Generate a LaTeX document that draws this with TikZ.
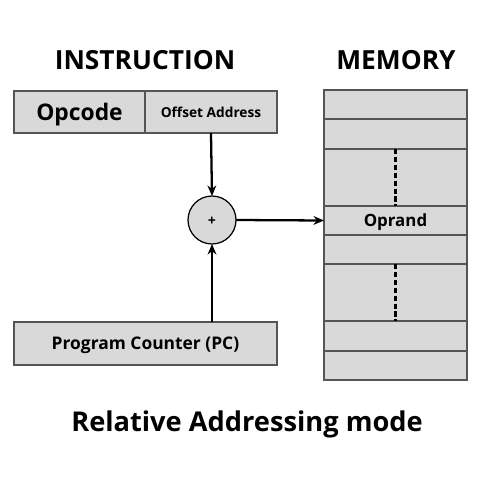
\documentclass[tikz,border=0pt]{standalone}
\usepackage{fontspec}
\setmainfont{Open Sans}
\usetikzlibrary{arrows.meta}
\definecolor{cellgray}{HTML}{D9D9D9}
\definecolor{edgegray}{HTML}{555555}
\begin{document}
\begin{tikzpicture}[x=0.02cm,y=-0.02cm,inner sep=0pt,outer sep=0pt,
cell/.style={draw=edgegray,fill=cellgray,line width=0.9pt,rectangle,anchor=north west},
txt/.style={font=\bfseries\fontsize{#1}{#1}\selectfont,text height=0.714*#1pt,text depth=0pt},
link/.style={line width=1.3pt,-{Stealth[length=6pt,width=5pt]}}]
\useasboundingbox (0,0) rectangle (500,500);
\draw (145,60) node[txt=15] (ititle) {INSTRUCTION};
\draw (396,60) node[txt=15] (mtitle) {MEMORY};
% instruction word
\draw (14,91) node[cell,txt=13,minimum width=2.62cm,minimum height=0.84cm] (opcode) {Opcode};
\draw (145,91) node[cell,txt=7.8,text height=6.2pt,minimum width=2.64cm,minimum height=0.84cm] (offset) {Offset Address};
% program counter
\draw (14,322) node[cell,txt=9.9,minimum width=5.26cm,minimum height=0.86cm] (pc) {Program Counter (PC)};
% adder
\draw (212,220) node[draw=black,fill=cellgray,line width=0.7pt,circle,minimum size=0.96cm,txt=8] (plus) {+};
% memory rows
\foreach \y/\h [count=\i] in {90/29,119/30,149/57,206/29,235/29,264/57,321/30,351/29}
  \draw (324,\y) node[cell,minimum width=2.86cm,minimum height=\h*0.02cm] (m\i) {};
\node[txt=9.6] at (m4) {Oprand};
\draw[line width=1.2pt,dashed,dash pattern=on 3pt off 1.5pt] (m3.north) -- (m3.south);
\draw[line width=1.2pt,dashed,dash pattern=on 3pt off 1.5pt] (m6.north) -- (m6.south);
% connectors
\draw[link] (offset.south) -- (plus.north);
\draw[link] (pc.north -| plus) -- (plus.south);
\draw[link] (plus.east) -- (m4.west);
\draw (247,422) node[txt=15.5] (caption) {Relative Addressing mode};
\end{tikzpicture}
\end{document}
